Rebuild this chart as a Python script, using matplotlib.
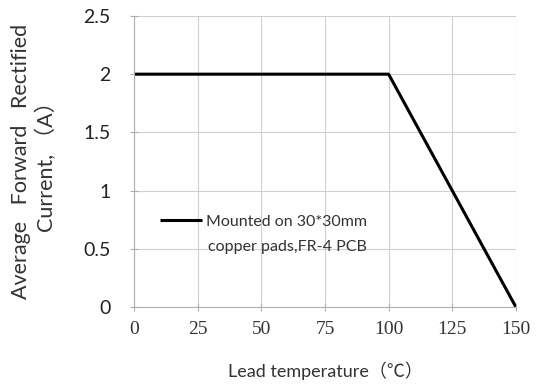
import matplotlib
matplotlib.use("Agg")
import matplotlib.pyplot as plt

temps = [0, 100, 150]
current = [2.0, 2.0, 0.0]
x_ticks = [0, 25, 50, 75, 100, 125, 150]
y_ticks = [0, 0.5, 1, 1.5, 2, 2.5]
y_tick_labels = ["0", "0.5", "1", "1.5", "2", "2.5"]
legend_line1 = "Mounted on 30*30mm"
legend_line2 = "copper pads,FR-4 PCB"

fig = plt.figure(figsize=(5.39, 3.90), dpi=100)
ax = fig.add_axes([0.249, 0.213, 0.708, 0.746])

ax.plot(temps, current, color="black", lw=2.2, label=legend_line1, solid_capstyle="butt")
ax.set_xlim(0, 150)
ax.set_ylim(0, 2.5)
ax.set_xticks(x_ticks)
ax.set_yticks(y_ticks)
ax.set_yticklabels(y_tick_labels)
ax.grid(True, color="#d0d0d0", lw=0.8)
for s in ["top", "right"]:
    ax.spines[s].set_visible(False)
for s in ["left", "bottom"]:
    ax.spines[s].set_color("#b0b0b0")
ax.tick_params(axis="both", direction="inout", length=6, color="#b0b0b0", width=0.8)
ax.tick_params(axis="x", pad=7)
ax.tick_params(axis="y", pad=14)
for lbl in ax.get_xticklabels():
    lbl.set_fontfamily("Liberation Serif")
    lbl.set_fontsize(14)
    lbl.set_color("#333333")
for lbl in ax.get_yticklabels():
    lbl.set_fontfamily("Lato")
    lbl.set_fontsize(14)
    lbl.set_color("#222222")

ax.set_xlabel("Lead temperature\uff08\u2103\uff09", fontsize=13,
              family=["Lato", "Noto Sans CJK SC"], color="#333333", labelpad=17)
ax.set_ylabel("Average   Forward   Rectified\nCurrent, \uff08A\uff09", fontsize=15.5,
              family=["Lato", "Noto Sans CJK SC"], color="#333333", labelpad=19,
              linespacing=1.25)

leg = ax.legend(loc="center left", bbox_to_anchor=(0.068, 0.292), frameon=False,
                borderaxespad=0, borderpad=0,
                handlelength=2.6, handletextpad=0.3,
                prop={"family": "Lato", "size": 11.5})
for t in leg.get_texts():
    t.set_color("#333333")
ax.text(0.194, 0.206, legend_line2, transform=ax.transAxes, ha="left", va="center",
        family="Lato", fontsize=11.5, color="#333333")

fig.savefig("out.png", dpi=100)
